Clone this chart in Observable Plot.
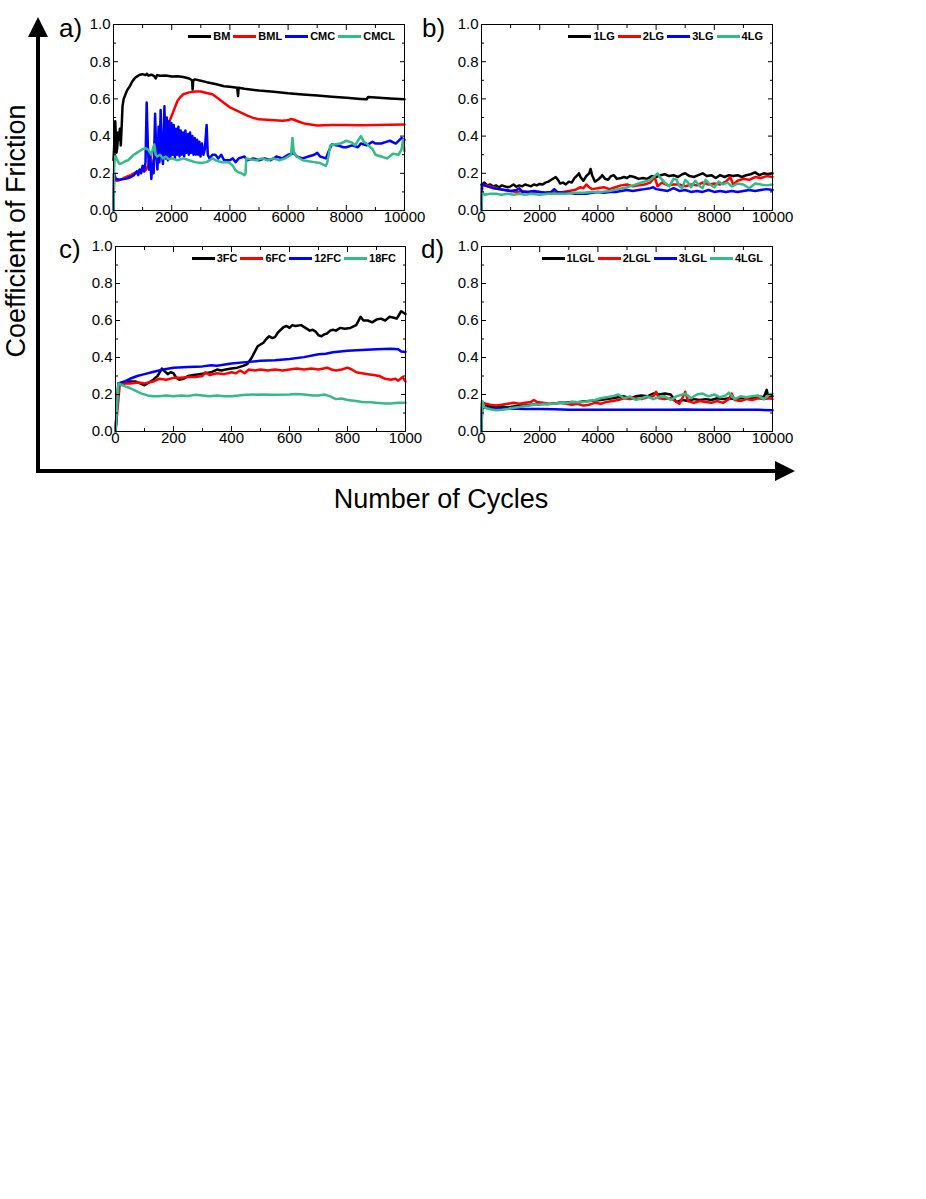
<!DOCTYPE html>
<html><head><meta charset="utf-8">
<script src="https://cdn.jsdelivr.net/npm/d3@7"></script>
<script src="https://cdn.jsdelivr.net/npm/@observablehq/plot@0.6"></script>
<style>
body{margin:0;background:#fff;font-family:"Liberation Sans",Arial,sans-serif;}
#root{position:relative;width:926px;height:1199px;overflow:hidden;background:#fff;}
.panel{position:absolute;}
.legend{position:absolute;display:flex;align-items:center;height:14px;font-weight:bold;font-size:11px;white-space:nowrap;color:#000;}
.legend .sw{display:inline-block;width:23px;height:3px;margin-right:2px;}
.legend .lb{margin-right:3px;}
.legend .lb:last-child{margin-right:0;}
</style></head><body><div id="root"></div>
<script>
// ---------- tick definitions ----------
const X_TICKS_10K = [0, 2000, 4000, 6000, 8000, 10000];
const X_MINOR_10K = [1000, 3000, 5000, 7000, 9000];
const X_TICKS_1K = [0, 200, 400, 600, 800, 1000];
const X_MINOR_1K = [100, 300, 500, 700, 900];
const Y_TICKS = [0, 0.2, 0.4, 0.6, 0.8, 1.0];
const Y_MINOR = [0.1, 0.3, 0.5, 0.7, 0.9];
const COLORS = ["#000000", "#ff0000", "#0000ff", "#33bb88"];

// ---------- series names ----------
const NAMES_A = ["BM", "BML", "CMC", "CMCL"];
const NAMES_B = ["1LG", "2LG", "3LG", "4LG"];
const NAMES_C = ["3FC", "6FC", "12FC", "18FC"];
const NAMES_D = ["1LGL", "2LGL", "3LGL", "4LGL"];

// ---------- panel a data [cycles, COF] ----------
const BM = [[0,0.27],[20,0.33],[40,0.42],[60,0.48],[80,0.40],[100,0.31],[130,0.34],[160,0.42],[190,0.38],[220,0.44],[250,0.35],[280,0.45],[310,0.56],[350,0.6],[400,0.62],[450,0.64],[500,0.655],[550,0.665],[600,0.68],[650,0.695],[700,0.705],[750,0.715],[800,0.72],[900,0.73],[1000,0.733],[1100,0.728],[1150,0.735],[1200,0.725],[1300,0.73],[1400,0.722],[1450,0.71],[1500,0.728],[1600,0.724],[1800,0.726],[2000,0.72],[2200,0.722],[2400,0.718],[2600,0.71],[2700,0.70],[2720,0.65],[2740,0.70],[2800,0.705],[3000,0.698],[3200,0.69],[3500,0.68],[3800,0.668],[4000,0.665],[4250,0.66],[4280,0.615],[4300,0.66],[4500,0.655],[5000,0.645],[5500,0.638],[6000,0.63],[6500,0.624],[7000,0.618],[7500,0.612],[8000,0.606],[8500,0.600],[8700,0.598],[8750,0.61],[9000,0.607],[9500,0.602],[10000,0.598]];
const BML = [[0,0.0],[20,0.2],[60,0.18],[100,0.16],[200,0.163],[300,0.17],[400,0.178],[500,0.185],[600,0.19],[700,0.2],[800,0.208],[900,0.215],[1000,0.22],[1100,0.215],[1150,0.23],[1200,0.245],[1260,0.31],[1300,0.22],[1350,0.26],[1400,0.28],[1500,0.32],[1600,0.36],[1700,0.40],[1800,0.44],[1900,0.47],[2000,0.51],[2100,0.55],[2200,0.59],[2300,0.61],[2400,0.625],[2600,0.635],[2800,0.64],[3000,0.64],[3200,0.632],[3400,0.625],[3600,0.602],[3800,0.578],[4000,0.555],[4200,0.54],[4400,0.525],[4600,0.51],[4800,0.498],[5000,0.49],[5400,0.487],[5800,0.483],[6000,0.485],[6100,0.492],[6200,0.488],[6400,0.476],[6600,0.466],[7000,0.457],[7500,0.46],[8000,0.46],[8500,0.459],[9000,0.46],[9500,0.461],[10000,0.462]];
const CMC = [[0,0.0],[20,0.2],[60,0.17],[100,0.17],[200,0.165],[300,0.168],[400,0.17],[500,0.175],[600,0.18],[700,0.19],[800,0.21],[850,0.19],[900,0.22],[950,0.2],[1000,0.24],[1050,0.21],[1100,0.26],[1140,0.58],[1180,0.35],[1220,0.22],[1260,0.3],[1300,0.17],[1340,0.25],[1380,0.2],[1430,0.52],[1470,0.3],[1510,0.22],[1550,0.45],[1580,0.26],[1620,0.54],[1660,0.3],[1700,0.25],[1750,0.56],[1790,0.28],[1830,0.5],[1870,0.27],[1910,0.48],[1950,0.28],[1990,0.47],[2030,0.3],[2070,0.46],[2110,0.28],[2150,0.44],[2190,0.3],[2230,0.45],[2270,0.29],[2310,0.43],[2350,0.3],[2390,0.42],[2430,0.29],[2470,0.43],[2510,0.31],[2550,0.41],[2590,0.3],[2630,0.42],[2670,0.31],[2710,0.4],[2750,0.3],[2790,0.39],[2830,0.3],[2870,0.38],[2910,0.3],[2950,0.37],[2990,0.29],[3040,0.36],[3090,0.3],[3140,0.33],[3200,0.46],[3240,0.3],[3300,0.28],[3400,0.3],[3500,0.3],[3600,0.28],[3700,0.3],[3800,0.27],[4000,0.27],[4100,0.28],[4200,0.26],[4300,0.28],[4500,0.29],[4600,0.27],[4800,0.28],[5000,0.27],[5200,0.28],[5400,0.27],[5600,0.29],[5800,0.28],[6000,0.3],[6200,0.31],[6300,0.29],[6500,0.28],[6700,0.29],[6900,0.3],[7000,0.31],[7100,0.29],[7300,0.28],[7400,0.32],[7500,0.355],[7700,0.35],[7900,0.34],[8000,0.34],[8200,0.35],[8400,0.34],[8500,0.36],[8700,0.35],[8900,0.37],[9000,0.36],[9200,0.36],[9400,0.37],[9500,0.375],[9700,0.36],[9900,0.39],[10000,0.38]];
const CMCL = [[0,0.0],[20,0.22],[50,0.3],[100,0.28],[200,0.25],[300,0.255],[400,0.265],[500,0.27],[600,0.285],[700,0.3],[800,0.31],[900,0.32],[1000,0.33],[1100,0.335],[1200,0.325],[1300,0.3],[1350,0.33],[1400,0.355],[1450,0.3],[1500,0.29],[1600,0.3],[1700,0.28],[1800,0.29],[1900,0.275],[2000,0.28],[2200,0.27],[2400,0.28],[2600,0.27],[2800,0.26],[3000,0.255],[3200,0.26],[3400,0.28],[3500,0.27],[3700,0.26],[3900,0.26],[4000,0.255],[4100,0.24],[4200,0.215],[4300,0.205],[4400,0.2],[4500,0.19],[4540,0.2],[4560,0.28],[4700,0.275],[4900,0.27],[5100,0.28],[5300,0.27],[5500,0.28],[5700,0.27],[5900,0.28],[6000,0.29],[6100,0.3],[6150,0.39],[6200,0.31],[6300,0.29],[6500,0.27],[6700,0.265],[6900,0.26],[7100,0.255],[7300,0.24],[7350,0.26],[7450,0.35],[7600,0.355],[7800,0.36],[8000,0.375],[8200,0.365],[8300,0.35],[8500,0.4],[8600,0.37],[8700,0.36],[8800,0.345],[8900,0.33],[9000,0.3],[9200,0.29],[9400,0.28],[9600,0.305],[9800,0.3],[9900,0.33],[9950,0.38],[10000,0.32]];

// ---------- panel b data ----------
const LG1 = [[0,0.14],[100,0.15],[200,0.135],[300,0.14],[400,0.13],[500,0.135],[600,0.125],[700,0.135],[800,0.13],[900,0.125],[1000,0.13],[1100,0.14],[1200,0.128],[1300,0.135],[1400,0.13],[1500,0.14],[1600,0.135],[1700,0.13],[1800,0.14],[1900,0.135],[2000,0.143],[2100,0.14],[2200,0.15],[2300,0.155],[2400,0.165],[2500,0.175],[2550,0.18],[2650,0.16],[2700,0.145],[2800,0.15],[2900,0.14],[3000,0.155],[3100,0.15],[3200,0.175],[3300,0.19],[3350,0.2],[3400,0.18],[3500,0.16],[3600,0.185],[3700,0.2],[3750,0.223],[3800,0.19],[3900,0.155],[4000,0.165],[4100,0.18],[4150,0.19],[4250,0.17],[4350,0.165],[4450,0.185],[4550,0.19],[4650,0.17],[4800,0.175],[4900,0.18],[5000,0.175],[5100,0.185],[5250,0.18],[5400,0.17],[5550,0.175],[5700,0.17],[5850,0.185],[6000,0.18],[6150,0.19],[6300,0.195],[6450,0.185],[6600,0.19],[6750,0.18],[6900,0.195],[7000,0.2],[7150,0.185],[7300,0.18],[7450,0.19],[7600,0.2],[7750,0.185],[7900,0.19],[8050,0.175],[8200,0.19],[8350,0.18],[8500,0.19],[8650,0.185],[8800,0.19],[8950,0.18],[9100,0.19],[9250,0.195],[9400,0.205],[9550,0.19],[9700,0.2],[9850,0.195],[10000,0.2]];
const LG2 = [[0,0.0],[20,0.14],[200,0.135],[400,0.125],[600,0.115],[800,0.11],[1000,0.105],[1200,0.1],[1400,0.105],[1600,0.1],[1800,0.1],[2000,0.1],[2200,0.095],[2400,0.1],[2600,0.095],[2800,0.1],[3000,0.105],[3200,0.11],[3400,0.125],[3500,0.12],[3600,0.14],[3700,0.125],[3800,0.115],[4000,0.12],[4200,0.125],[4400,0.115],[4600,0.125],[4800,0.135],[5000,0.14],[5200,0.13],[5400,0.135],[5600,0.14],[5800,0.15],[5950,0.18],[6050,0.13],[6200,0.15],[6400,0.135],[6600,0.14],[6800,0.14],[7000,0.13],[7200,0.14],[7400,0.135],[7600,0.15],[7800,0.14],[8000,0.145],[8200,0.14],[8400,0.155],[8550,0.18],[8650,0.14],[8800,0.16],[9000,0.17],[9200,0.165],[9400,0.18],[9600,0.175],[9800,0.185],[10000,0.18]];
const LG3 = [[0,0.0],[15,0.14],[200,0.13],[400,0.12],[600,0.115],[800,0.11],[1000,0.105],[1200,0.11],[1300,0.12],[1400,0.1],[1600,0.1],[1800,0.105],[2000,0.1],[2200,0.095],[2400,0.1],[2500,0.115],[2600,0.1],[2800,0.095],[3000,0.095],[3200,0.09],[3400,0.09],[3600,0.09],[3800,0.095],[4000,0.1],[4200,0.095],[4400,0.1],[4600,0.1],[4800,0.105],[5000,0.11],[5200,0.105],[5400,0.11],[5600,0.115],[5800,0.12],[5900,0.125],[6000,0.115],[6200,0.11],[6400,0.105],[6600,0.12],[6800,0.105],[7000,0.11],[7200,0.1],[7400,0.105],[7600,0.1],[7800,0.11],[8000,0.1],[8200,0.105],[8400,0.1],[8600,0.105],[8800,0.1],[9000,0.105],[9200,0.11],[9400,0.105],[9600,0.11],[9800,0.115],[10000,0.11]];
const LG4 = [[0,0.0],[20,0.1],[100,0.085],[300,0.09],[500,0.09],[700,0.085],[900,0.09],[1100,0.085],[1300,0.09],[1500,0.085],[1700,0.09],[2000,0.085],[2300,0.09],[2600,0.09],[2900,0.09],[3200,0.095],[3500,0.095],[3800,0.1],[4100,0.1],[4400,0.105],[4700,0.115],[5000,0.125],[5200,0.135],[5400,0.145],[5600,0.155],[5800,0.165],[5950,0.185],[6050,0.2],[6150,0.175],[6300,0.15],[6450,0.13],[6600,0.17],[6700,0.165],[6800,0.13],[6900,0.12],[7000,0.165],[7100,0.15],[7200,0.125],[7350,0.16],[7500,0.13],[7600,0.12],[7700,0.165],[7850,0.14],[8000,0.125],[8150,0.155],[8300,0.14],[8450,0.15],[8600,0.13],[8800,0.145],[9000,0.14],[9200,0.12],[9400,0.145],[9600,0.14],[9800,0.135],[10000,0.14]];

// ---------- panel c data ----------
const FC3 = [[0,0],[10,0.26],[30,0.26],[50,0.27],[70,0.27],[85,0.26],[100,0.25],[115,0.265],[130,0.28],[145,0.3],[160,0.34],[170,0.325],[180,0.31],[190,0.32],[200,0.315],[210,0.29],[220,0.28],[235,0.285],[250,0.3],[270,0.305],[290,0.31],[310,0.315],[330,0.32],[350,0.335],[365,0.33],[380,0.335],[400,0.34],[420,0.345],[440,0.355],[455,0.365],[470,0.4],[480,0.43],[490,0.46],[500,0.47],[510,0.48],[520,0.5],[530,0.515],[540,0.505],[550,0.51],[560,0.535],[570,0.55],[580,0.565],[590,0.57],[600,0.56],[610,0.575],[620,0.57],[640,0.575],[655,0.56],[670,0.545],[680,0.55],[690,0.54],[700,0.52],[710,0.515],[720,0.525],[730,0.53],[740,0.545],[750,0.55],[760,0.545],[775,0.56],[790,0.555],[810,0.56],[830,0.575],[845,0.62],[855,0.6],[870,0.6],[885,0.59],[900,0.605],[915,0.61],[930,0.6],[945,0.62],[960,0.615],[970,0.61],[985,0.65],[1000,0.635]];
const FC6 = [[0,0],[15,0.26],[50,0.26],[80,0.265],[100,0.26],[130,0.27],[150,0.285],[175,0.28],[200,0.29],[225,0.29],[250,0.295],[275,0.295],[300,0.3],[310,0.32],[325,0.305],[350,0.315],[375,0.31],[400,0.32],[415,0.315],[430,0.33],[445,0.315],[460,0.335],[480,0.33],[500,0.335],[525,0.33],[550,0.335],[575,0.33],[600,0.335],[625,0.34],[650,0.335],[675,0.34],[700,0.335],[730,0.345],[745,0.335],[760,0.33],[780,0.335],[800,0.345],[815,0.335],[830,0.32],[850,0.315],[870,0.31],[890,0.305],[910,0.3],[930,0.285],[950,0.28],[965,0.285],[975,0.275],[990,0.295],[1000,0.27]];
const FC12 = [[0,0],[10,0.26],[30,0.27],[50,0.285],[75,0.3],[100,0.31],[125,0.32],[150,0.33],[175,0.338],[200,0.345],[250,0.348],[300,0.352],[330,0.358],[350,0.355],[400,0.368],[450,0.375],[500,0.382],[550,0.385],[600,0.392],[650,0.402],[700,0.418],[725,0.42],[750,0.428],[800,0.436],[850,0.44],[900,0.444],[950,0.447],[975,0.445],[985,0.432],[1000,0.43]];
const FC18 = [[0,0],[10,0.26],[30,0.245],[50,0.235],[70,0.22],[90,0.205],[110,0.195],[130,0.19],[150,0.19],[175,0.195],[200,0.19],[225,0.195],[250,0.192],[275,0.198],[300,0.195],[325,0.19],[350,0.195],[375,0.19],[400,0.19],[425,0.195],[450,0.198],[500,0.2],[550,0.198],[600,0.2],[620,0.203],[650,0.2],[680,0.195],[700,0.195],[720,0.2],[740,0.19],[760,0.175],[780,0.178],[800,0.17],[830,0.165],[850,0.16],[880,0.158],[900,0.155],[930,0.152],[950,0.152],[975,0.155],[1000,0.155]];

// ---------- panel d data ----------
const LGL1 = [[0,0],[20,0.16],[150,0.14],[300,0.135],[500,0.13],[700,0.135],[900,0.13],[1100,0.135],[1300,0.14],[1500,0.14],[1700,0.145],[1900,0.145],[2100,0.15],[2300,0.148],[2500,0.152],[2700,0.155],[2900,0.155],[3100,0.16],[3300,0.158],[3500,0.162],[3700,0.165],[3900,0.168],[4100,0.17],[4300,0.175],[4500,0.18],[4700,0.185],[4900,0.19],[5100,0.18],[5300,0.19],[5500,0.195],[5700,0.19],[5900,0.205],[6100,0.2],[6300,0.205],[6500,0.2],[6600,0.18],[6700,0.16],[6900,0.17],[7100,0.165],[7300,0.175],[7500,0.17],[7700,0.175],[7900,0.17],[8100,0.18],[8300,0.175],[8500,0.18],[8700,0.175],[8900,0.18],[9100,0.185],[9300,0.18],[9500,0.19],[9700,0.185],[9800,0.225],[9850,0.19],[10000,0.19]];
const LGL2 = [[0,0],[20,0.155],[150,0.15],[300,0.145],[500,0.14],[700,0.145],[900,0.15],[1100,0.155],[1300,0.15],[1500,0.155],[1700,0.16],[1800,0.17],[1900,0.16],[2100,0.155],[2300,0.15],[2500,0.15],[2700,0.155],[2900,0.15],[3100,0.145],[3300,0.15],[3500,0.14],[3700,0.145],[3900,0.155],[4100,0.15],[4300,0.16],[4500,0.165],[4700,0.17],[4900,0.18],[5100,0.175],[5300,0.18],[5500,0.175],[5700,0.185],[5900,0.19],[6000,0.215],[6100,0.18],[6300,0.175],[6500,0.18],[6700,0.16],[6800,0.15],[6900,0.18],[7000,0.215],[7100,0.165],[7300,0.155],[7500,0.165],[7700,0.16],[7900,0.155],[8100,0.165],[8300,0.155],[8500,0.175],[8600,0.205],[8700,0.17],[8900,0.165],[9100,0.175],[9300,0.17],[9500,0.18],[9700,0.175],[9900,0.18],[10000,0.175]];
const LGL3 = [[0,0],[20,0.13],[300,0.125],[800,0.125],[1500,0.122],[2000,0.122],[2500,0.12],[3000,0.118],[3500,0.117],[4000,0.118],[4500,0.117],[5000,0.118],[5500,0.117],[6000,0.118],[6500,0.118],[7000,0.119],[7500,0.118],[8000,0.118],[8500,0.118],[9000,0.118],[9500,0.117],[10000,0.115]];
const LGL4 = [[0,0],[20,0.165],[100,0.13],[300,0.12],[500,0.115],[700,0.118],[900,0.122],[1100,0.128],[1300,0.132],[1500,0.138],[1700,0.142],[1900,0.145],[2100,0.148],[2300,0.148],[2500,0.15],[2700,0.155],[2900,0.152],[3100,0.16],[3300,0.158],[3500,0.16],[3700,0.165],[3900,0.17],[4100,0.18],[4300,0.185],[4500,0.19],[4700,0.2],[4900,0.18],[5100,0.19],[5300,0.17],[5500,0.18],[5700,0.19],[5900,0.175],[6100,0.185],[6300,0.19],[6500,0.17],[6700,0.19],[6900,0.2],[7000,0.205],[7200,0.18],[7400,0.2],[7600,0.205],[7800,0.19],[8000,0.2],[8200,0.185],[8400,0.195],[8500,0.21],[8700,0.175],[8900,0.19],[9100,0.185],[9300,0.19],[9500,0.195],[9700,0.175],[9900,0.2],[10000,0.205]];

// ---------- layout ----------
const root = document.getElementById("root");
const FONT = "Liberation Sans, Arial, Helvetica, sans-serif";
const M = {l: 50, r: 25, t: 10, b: 30};

const panels = [
  {label: "a)", L: 113, T: 24, W: 291, H: 186, series: [BM, BML, CMC, CMCL], names: NAMES_A, xMax: 10000, xt: X_TICKS_10K, xm: X_MINOR_10K, lx: 59, ly: 37},
  {label: "b)", L: 481, T: 24, W: 291, H: 186, series: [LG1, LG2, LG3, LG4], names: NAMES_B, xMax: 10000, xt: X_TICKS_10K, xm: X_MINOR_10K, lx: 422, ly: 37},
  {label: "c)", L: 115, T: 246, W: 290, H: 185, series: [FC3, FC6, FC12, FC18], names: NAMES_C, xMax: 1000, xt: X_TICKS_1K, xm: X_MINOR_1K, lx: 59, ly: 258},
  {label: "d)", L: 481, T: 246, W: 291, H: 185, series: [LGL1, LGL2, LGL3, LGL4], names: NAMES_D, xMax: 10000, xt: X_TICKS_10K, xm: X_MINOR_10K, lx: 421, ly: 258}
];

// decorations overlay (arrows, axis titles, panel letters)
const over = d3.select(root).append("svg")
  .attr("width", 926).attr("height", 1199)
  .style("position", "absolute").style("left", 0).style("top", 0)
  .style("overflow", "visible")
  .style("font-family", FONT);
over.append("line").attr("x1", 38).attr("y1", 473).attr("x2", 38).attr("y2", 34).attr("stroke", "#000").attr("stroke-width", 4);
over.append("polygon").attr("points", "38,17 28,37 48,37").attr("fill", "#000");
over.append("line").attr("x1", 36).attr("y1", 471).attr("x2", 778).attr("y2", 471).attr("stroke", "#000").attr("stroke-width", 4);
over.append("polygon").attr("points", "795,471 775,461 775,481").attr("fill", "#000");
over.append("text").attr("transform", "translate(25,231) rotate(-90)").attr("text-anchor", "middle")
  .attr("font-size", 27).text("Coefficient of Friction");
over.append("text").attr("x", 441).attr("y", 508).attr("text-anchor", "middle")
  .attr("font-size", 27).text("Number of Cycles");
panels.forEach(p => {
  over.append("text").attr("x", p.lx).attr("y", p.ly).attr("font-size", 26).text(p.label);
});

const blank = () => "";
const fmtY = d3.format(".1f");

panels.forEach(p => {
  const marks = [];
  p.series.forEach((s, i) => marks.push(Plot.line(s, {x: d => d[0], y: d => d[1], stroke: COLORS[i], strokeWidth: 2.5, strokeLinejoin: "round"})));
  marks.push(Plot.frame({stroke: "#000", strokeWidth: 1}));
  // labels
  marks.push(Plot.axisX({anchor: "bottom", ticks: p.xt, tickSize: 0, tickPadding: 1, fontSize: 15, tickFormat: d => String(d)}));
  marks.push(Plot.axisY({anchor: "left", ticks: Y_TICKS, tickSize: 0, tickPadding: 3, fontSize: 15, tickFormat: fmtY}));
  // inward ticks, all four sides
  for (const a of ["bottom", "top"]) {
    marks.push(Plot.axisX({anchor: a, ticks: p.xt, tickSize: -5, tickFormat: blank}));
    marks.push(Plot.axisX({anchor: a, ticks: p.xm, tickSize: -3, tickFormat: blank}));
  }
  for (const a of ["left", "right"]) {
    marks.push(Plot.axisY({anchor: a, ticks: Y_TICKS, tickSize: -5, tickFormat: blank}));
    marks.push(Plot.axisY({anchor: a, ticks: Y_MINOR, tickSize: -3, tickFormat: blank}));
  }
  const chart = Plot.plot({
    width: M.l + p.W + M.r, height: M.t + p.H + M.b,
    marginLeft: M.l, marginRight: M.r, marginTop: M.t, marginBottom: M.b,
    x: {domain: [0, p.xMax]},
    y: {domain: [0, 1]},
    style: {fontFamily: FONT, fontSize: "15px", color: "#000", background: "transparent", overflow: "visible"},
    marks
  });
  const div = document.createElement("div");
  div.className = "panel";
  div.style.left = (p.L - M.l) + "px";
  div.style.top = (p.T - M.t) + "px";
  div.appendChild(chart);
  root.appendChild(div);

  // legend
  const lg = document.createElement("div");
  lg.className = "legend";
  lg.style.right = (926 - (p.L + p.W - 9)) + "px";
  lg.style.top = (p.T + 12 - 7) + "px";
  p.names.forEach((n, i) => {
    const sw = document.createElement("span");
    sw.className = "sw"; sw.style.background = COLORS[i];
    const lb = document.createElement("span");
    lb.className = "lb"; lb.textContent = n;
    lg.appendChild(sw); lg.appendChild(lb);
  });
  root.appendChild(lg);
});
</script></body></html>
